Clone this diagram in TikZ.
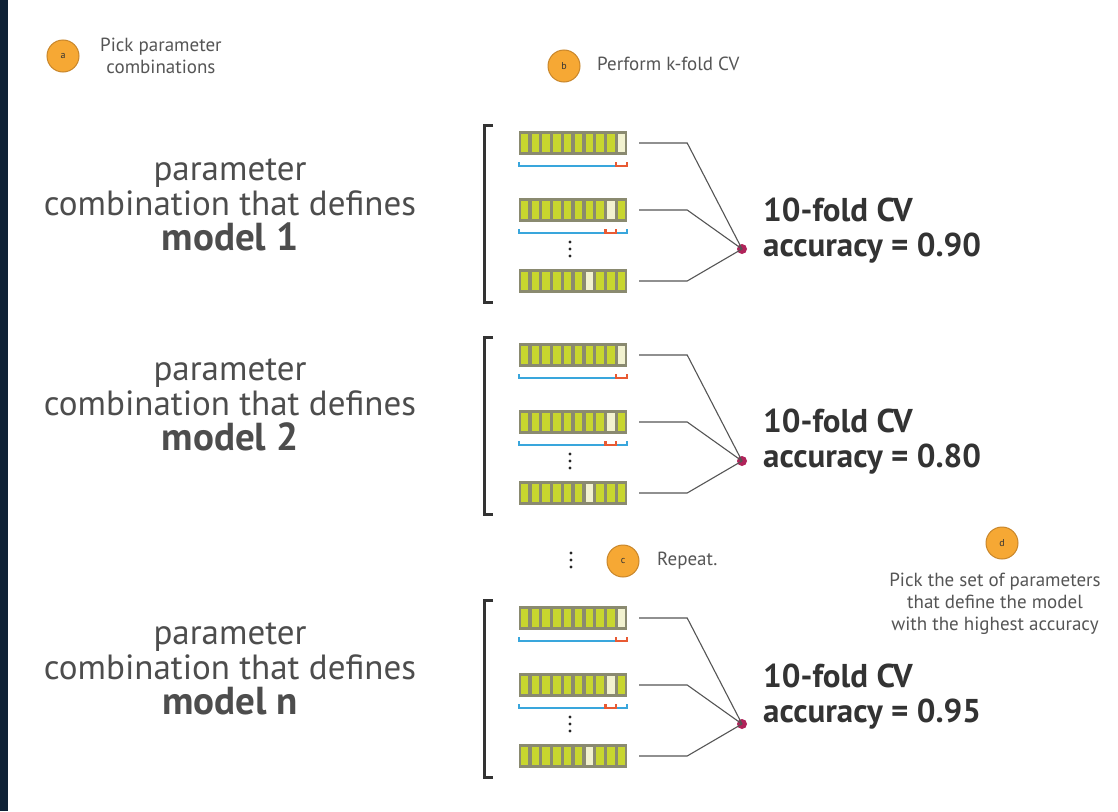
\documentclass[tikz,border=0pt]{standalone}
\usepackage{fontspec}
\setmainfont{PT Sans}
\definecolor{navy}{HTML}{0F2236}
\definecolor{circorange}{HTML}{F6A834}
\definecolor{circedge}{HTML}{C8862A}
\definecolor{labelgray}{HTML}{555555}
\definecolor{textgray}{HTML}{4D4D4D}
\definecolor{darktext}{HTML}{333333}
\definecolor{framecol}{HTML}{8A8A70}
\definecolor{traincol}{HTML}{C8D62E}
\definecolor{testcol}{HTML}{F2F2D0}
\definecolor{bluecol}{HTML}{39A6DC}
\definecolor{redcol}{HTML}{E85A33}
\definecolor{dotcol}{HTML}{B0235A}
\definecolor{linegray}{HTML}{555555}
\tikzset{
  stepcircle/.style={circle, fill=circorange, draw=circedge, line width=1pt, minimum size=32pt, inner sep=0pt, font=\fontsize{10}{10}\selectfont, text=darktext},
  smalllabel/.style={font=\fontsize{19}{22}\selectfont, text=labelgray, align=center, inner sep=0pt},
  bigtext/.style={font=\fontsize{35}{35}\selectfont, text=textgray, align=center, inner sep=0pt},
  acctext/.style={font=\bfseries\fontsize{33}{33}\selectfont, text=darktext, anchor=west, inner sep=0pt},
  barframe/.style={rectangle, fill=framecol, minimum width=108pt, minimum height=24pt, inner sep=0pt},
  traincell/.style={fill=traincol},
  testcell/.style={fill=testcol},
  blueline/.style={draw=bluecol, line width=2.4pt},
  redline/.style={draw=redcol, line width=2.4pt},
  conn/.style={draw=linegray, line width=1.1pt},
  pdot/.style={circle, fill=dotcol, inner sep=0pt, minimum size=10pt},
  bracketline/.style={draw=darktext, line width=3pt},
  vdot/.style={fill=black!85}
}
% #1 name, #2 y, #3 test cell index
\newcommand\cvbar[3]{%
  \node[barframe] (#1) at (573,#2) {};
  \foreach \i in {1,...,10}{%
    \ifnum\i=#3 \def\cellstyle{testcell}\else\def\cellstyle{traincell}\fi
    \fill[\cellstyle] ({519+(\i-1)*10.8+1.7},{#2-9}) rectangle ({519+\i*10.8-1.7},{#2+9});
  }%
}
% #1 y of bar, #2 test index
\newcommand\cvunder[2]{%
  \pgfmathsetmacro\ly{#1+23}%
  \pgfmathsetmacro\ts{519+(#2-1)*10.8}%
  \pgfmathsetmacro\te{519+#2*10.8}%
  \draw[blueline] (519,\ly-4) -- (519,\ly) -- (627,\ly) -- (627,\ly-4);
  \draw[redline] (\ts,\ly-4) -- (\ts,\ly) -- (\te,\ly) -- (\te,\ly-4);
}
% #1 block id, #2 base y, #3 accuracy, #4 model label, #5 left text y, #6 acc text y
\newcommand\cvblock[6]{%
  \draw[bracketline] (493,{#2-18}) -- (484,{#2-18}) -- (484,{#2+159}) -- (493,{#2+159});
  \cvbar{#1a}{#2}{10}
  \cvunder{#2}{10}
  \cvbar{#1b}{#2+67}{9}
  \cvunder{#2+67}{9}
  \cvbar{#1c}{#2+138}{7}
  \foreach \k in {0,1,2}{\fill[vdot] (570,{#2+99+\k*7}) circle (1.7);}
  \node[pdot] (#1dot) at (742,{#2+106}) {};
  \draw[conn] ([xshift=12pt]#1a.east) -- ++(48,0) -- (#1dot.center);
  \draw[conn] ([xshift=12pt]#1b.east) -- ++(48,0) -- (#1dot.center);
  \draw[conn] ([xshift=12pt]#1c.east) -- ++(48,0) -- (#1dot.center);
  \node[acctext] (#1cv) at (763,{#6}) {10-fold CV};
  \node[acctext] (#1acc) at (763,{#6+38}) {accuracy = #3};
  \node[bigtext] (#1txt) at (230,{#5}) {parameter\\combination that defines\\{\bfseries\fontsize{39}{35}\selectfont #4}};
}
\begin{document}
\begin{tikzpicture}[x=1pt,y=-1pt]
\useasboundingbox (0,0) rectangle (1118,811);
\fill[white] (0,0) rectangle (1118,811);
\fill[navy] (0,0) rectangle (8,811);

\node[stepcircle] (ca) at (63,56) {a};
\node[smalllabel, anchor=west] (la) at (100,56) {Pick parameter\\combinations};

\node[stepcircle] (cb) at (564,66) {b};
\node[smalllabel, anchor=west] (lb) at (597,64) {Perform k-fold CV};

\cvblock{m}{143}{0.90}{model 1}{205}{210}
\cvblock{p}{355}{0.80}{model 2}{405}{421}
\cvblock{q}{618}{0.95}{model n}{669}{676}

\foreach \k in {0,1,2}{\fill[vdot] (571,{553+\k*7}) circle (1.7);}
\node[stepcircle] (cc) at (623,561) {c};
\node[smalllabel, anchor=west] (lc) at (657,561) {Repeat.};

\node[stepcircle] (cd) at (1002,543) {d};
\node[smalllabel] (ld) at (995,604) {Pick the set of parameters\\that define the model\\with the highest accuracy};
\end{tikzpicture}
\end{document}
